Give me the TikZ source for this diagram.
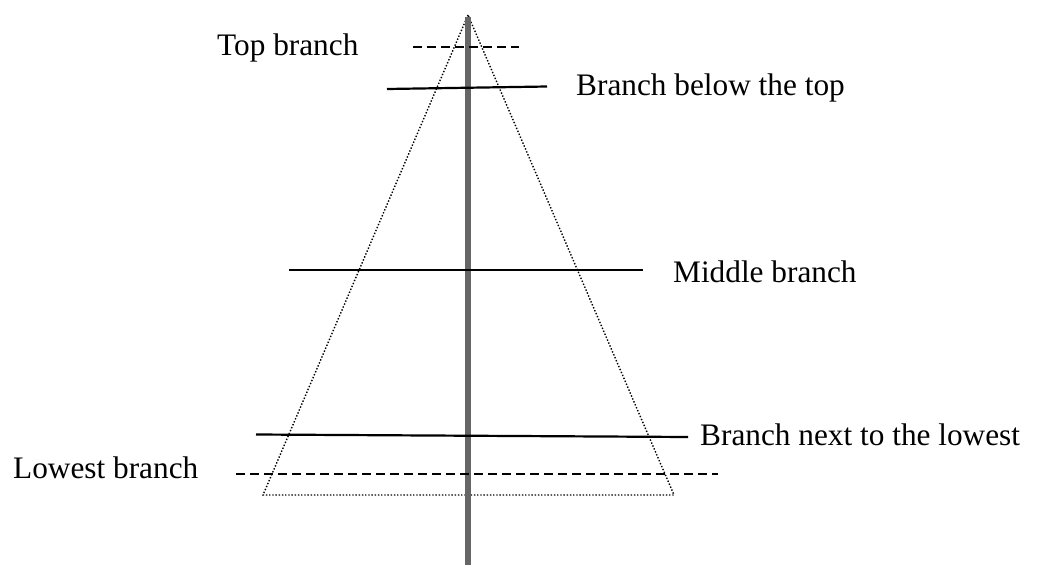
\documentclass[tikz,border=0pt]{standalone}
\usepackage{fontspec}
\setmainfont{Liberation Serif}
\usetikzlibrary{positioning}

\begin{document}
\begin{tikzpicture}[x=1pt,y=-1pt]
\tikzstyle{lbl}=[anchor=base west,inner sep=0pt,font=\fontsize{31.3}{36}\selectfont]
\tikzstyle{branch}=[line width=2.2pt]
\tikzstyle{guess}=[line width=1.4pt,dash pattern=on 9pt off 5pt]
\tikzstyle{crown}=[line width=1.4pt,dash pattern=on 1.4pt off 1.8pt]
\useasboundingbox (0,0) rectangle (1037,565);
   % outline of the crown
   \coordinate (apex) at (468,15);
   \coordinate (cl) at (263,495);
   \coordinate (cr) at (674,495);
   \path [draw,crown] (apex) -- (cl) -- (cr) -- cycle;

   % trunk
   \coordinate (t0) at (467.5,17);
   \coordinate (t1) at (467.5,565);
   \path [draw,line width=6pt,black!60] (t0) -- (t1);

   % branches
   \coordinate (b1l) at (413,47);  \coordinate (b1r) at (519,47);
   \coordinate (b2l) at (387,89);  \coordinate (b2r) at (547,86.5);
   \coordinate (b3l) at (289,270); \coordinate (b3r) at (643,270);
   \coordinate (b4l) at (256,434.5); \coordinate (b4r) at (688,437);
   \coordinate (b5l) at (236,474); \coordinate (b5r) at (718,474);
   \path [draw,guess] (b1l) -- (b1r);
   \path [draw,branch] (b2l) -- (b2r);
   \path [draw,branch] (b3l) -- (b3r);
   \path [draw,branch] (b4l) -- (b4r);
   \path [draw,guess] (b5l) -- (b5r);

   % labels
   \draw (217,55) node (top) [lbl] {Top branch};
   \draw (576,95) node (below) [lbl] {Branch below the top};
   \draw (673,282) node (middle) [lbl] {Middle branch};
   \draw (700,445) node (next) [lbl] {Branch next to the lowest};
   \draw (13,478) node (lowest) [lbl] {Lowest branch};
\end{tikzpicture}
\end{document}
